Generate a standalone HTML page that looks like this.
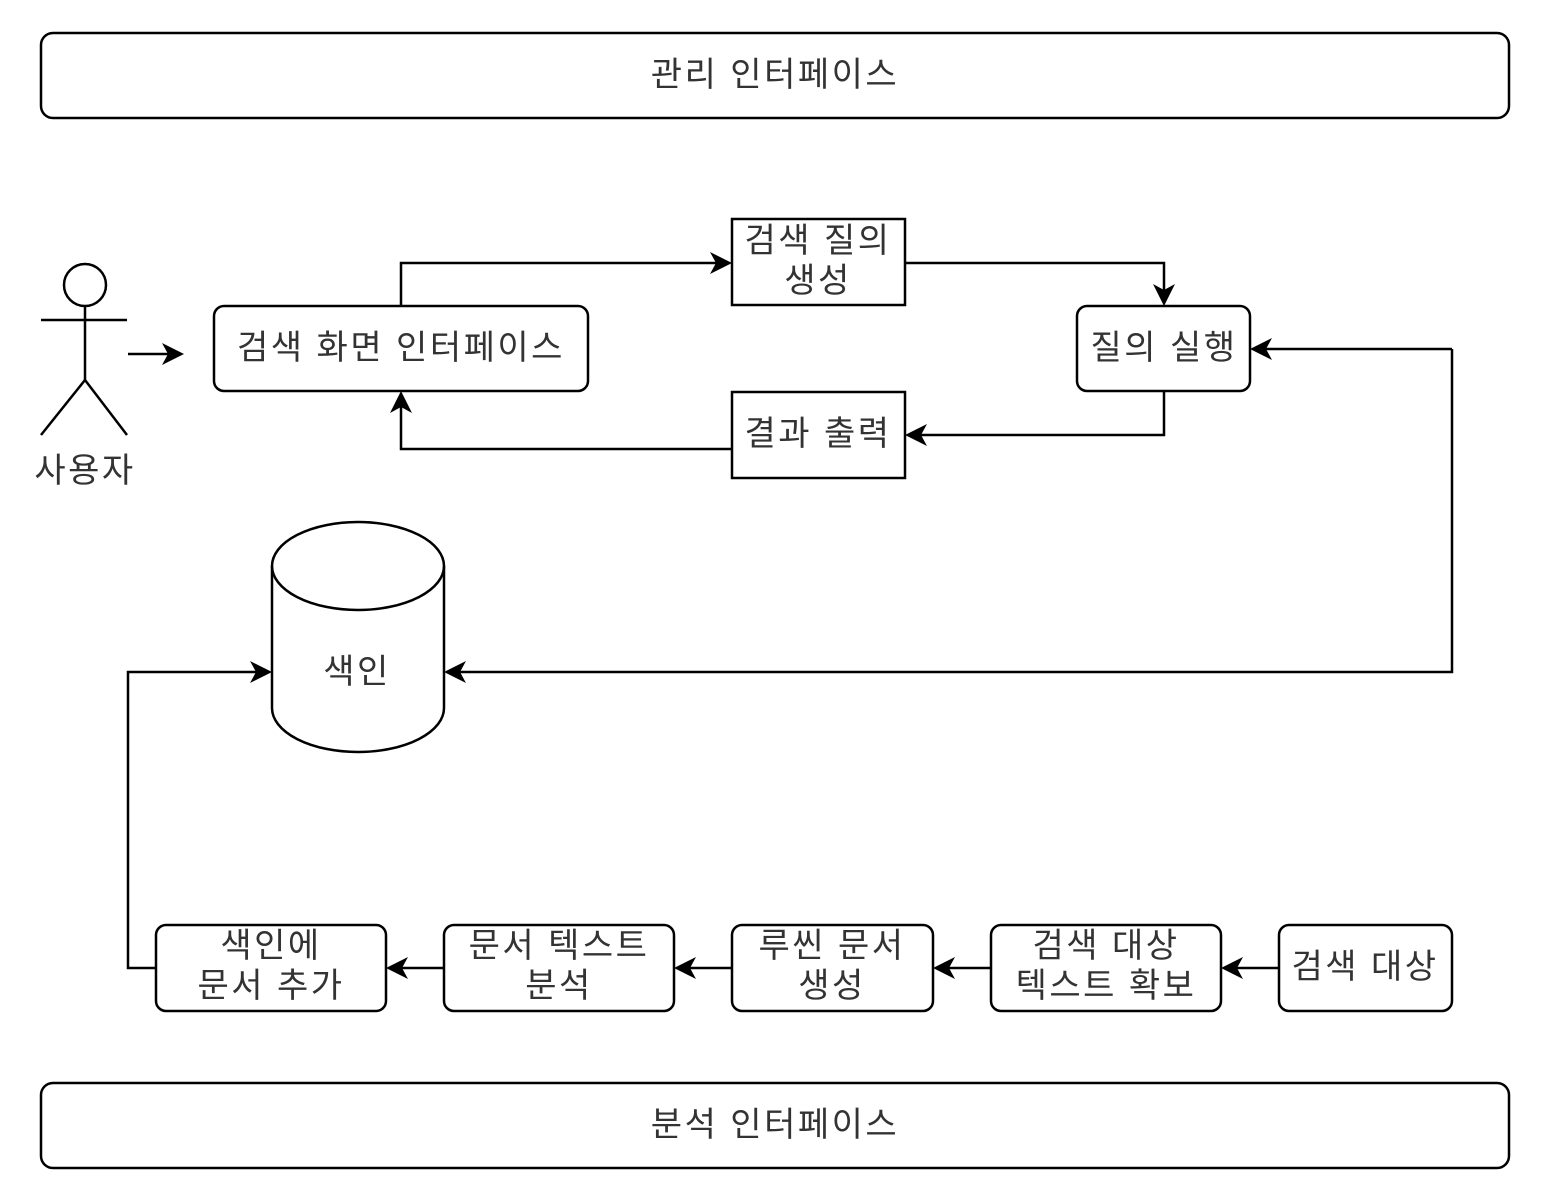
<!DOCTYPE html>
<html><head><meta charset="utf-8"><style>
html,body{margin:0;padding:0;background:#fff;}
svg{display:block;}
text{font-family:"Liberation Sans","Noto Sans CJK KR","NanumGothic",sans-serif;fill:#333;font-size:34px;letter-spacing:2.5px;text-anchor:middle;dominant-baseline:central;}
</style></head><body>
<svg width="1552" height="1204" viewBox="0 0 1552 1204" xmlns="http://www.w3.org/2000/svg">
<g fill="none" stroke="#000" stroke-width="2.5">
<rect x="41" y="33" width="1468" height="85" rx="12"/>
<rect x="41" y="1083" width="1468" height="85" rx="12"/>
<circle cx="85" cy="285" r="21"/>
<line x1="41" y1="320" x2="127" y2="320"/>
<line x1="85" y1="306" x2="85" y2="380"/>
<polyline points="41,435 85,380 127,435"/>
<rect x="214" y="306" width="374" height="85" rx="10"/>
<rect x="732" y="219" width="173" height="86"/>
<rect x="1077" y="306" width="173" height="85" rx="10"/>
<rect x="732" y="392" width="173" height="86"/>
<path d="M272,566 A86,44 0 0 1 444,566 L444,708 A86,44 0 0 1 272,708 Z"/>
<path d="M272,566 A86,44 0 0 0 444,566"/>
<rect x="156" y="925" width="230" height="86" rx="10"/>
<rect x="444" y="925" width="230" height="86" rx="10"/>
<rect x="732" y="925" width="201" height="86" rx="10"/>
<rect x="991" y="925" width="230" height="86" rx="10"/>
<rect x="1279" y="925" width="173" height="86" rx="10"/>
<line x1="128" y1="354" x2="172" y2="354"/>
<polyline points="401,306 401,263 720,263"/>
<polyline points="905,263 1164,263 1164,294"/>
<polyline points="1164,391 1164,435 917,435"/>
<polyline points="732,449 401,449 401,403"/>
<polyline points="1452,349 1452,672 456,672"/>
<line x1="1452" y1="349" x2="1262" y2="349"/>
<polyline points="156,968 128,968 128,672 260,672"/>
<line x1="1279" y1="968" x2="1233" y2="968"/>
<line x1="991" y1="968" x2="945" y2="968"/>
<line x1="732" y1="968" x2="686" y2="968"/>
<line x1="444" y1="968" x2="398" y2="968"/>
</g>
<g fill="#000">
<path d="M184,354 l-22,-11 l6,11 l-6,11 z"/>
<path d="M732,263 l-22,-11 l6,11 l-6,11 z"/>
<path d="M1164,306 l-11,-22 l11,6 l11,-6 z"/>
<path d="M905,435 l22,-11 l-6,11 l6,11 z"/>
<path d="M401,391 l-11,22 l11,-6 l11,6 z"/>
<path d="M1250,349 l22,-11 l-6,11 l6,11 z"/>
<path d="M444,672 l22,-11 l-6,11 l6,11 z"/>
<path d="M272,672 l-22,-11 l6,11 l-6,11 z"/>
<path d="M1221,968 l22,-11 l-6,11 l6,11 z"/>
<path d="M933,968 l22,-11 l-6,11 l6,11 z"/>
<path d="M674,968 l22,-11 l-6,11 l6,11 z"/>
<path d="M386,968 l22,-11 l-6,11 l6,11 z"/>
</g>
<text x="775" y="75">관리 인터페이스</text>
<text x="775" y="1125">분석 인터페이스</text>
<text x="85" y="471">사용자</text>
<text x="401" y="348">검색 화면 인터페이스</text>
<text x="818" y="241">검색 질의</text>
<text x="818" y="281">생성</text>
<text x="1164" y="348">질의 실행</text>
<text x="818" y="434">결과 출력</text>
<text x="357" y="672">색인</text>
<text x="271" y="946">색인에</text>
<text x="271" y="986">문서 추가</text>
<text x="559" y="946">문서 텍스트</text>
<text x="559" y="986">분석</text>
<text x="832" y="946">루씬 문서</text>
<text x="832" y="986">생성</text>
<text x="1106" y="946">검색 대상</text>
<text x="1106" y="986">텍스트 확보</text>
<text x="1365" y="967">검색 대상</text>
</svg>
</body></html>
